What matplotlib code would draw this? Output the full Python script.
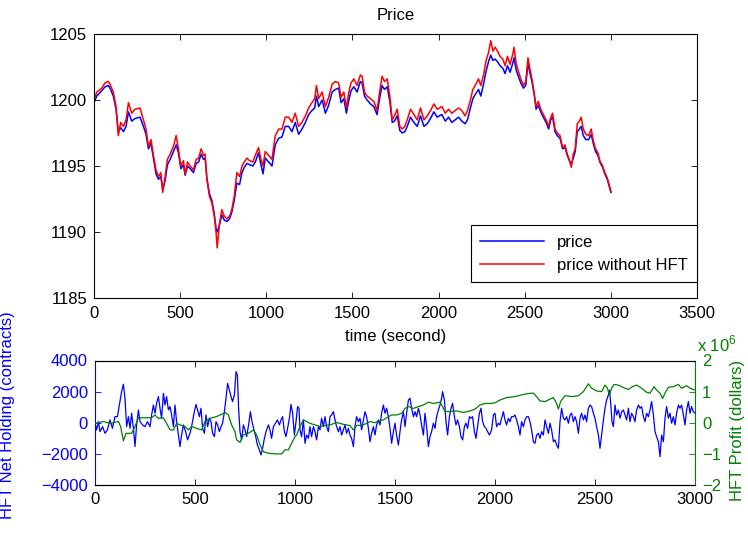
import numpy as np
import matplotlib.pyplot as plt

plt.rcParams['font.family'] = ['Liberation Sans', 'DejaVu Sans']
plt.rcParams['font.size'] = 12
plt.rcParams['mathtext.fontset'] = 'custom'
plt.rcParams['mathtext.rm'] = 'Liberation Sans'

# ---- price panel ----
t_price = [0, 16, 45, 64, 83, 93, 112, 128, 141, 155, 171, 186, 200, 219, 238, 267, 287, 302, 316, 331,
           345, 360, 374, 388, 399, 413, 426, 442, 461, 477, 490, 504, 519, 529, 543, 558, 577, 593, 607, 622,
           636, 645, 655, 670, 684, 698, 709, 715, 729, 742, 756, 771, 787, 800, 814, 829, 845, 859, 872, 888,
           903, 922, 936, 955, 969, 981, 994, 1014, 1033, 1052, 1072, 1091, 1110, 1130, 1149, 1168, 1188, 1207, 1227, 1246,
           1265, 1281, 1291, 1304, 1324, 1343, 1362, 1382, 1401, 1420, 1434, 1450, 1465, 1479, 1492, 1508, 1527, 1546, 1556, 1570,
           1585, 1605, 1624, 1643, 1659, 1672, 1686, 1702, 1717, 1731, 1744, 1760, 1775, 1789, 1804, 1818, 1837, 1857, 1876, 1895,
           1915, 1934, 1953, 1973, 1992, 2019, 2039, 2058, 2077, 2097, 2116, 2135, 2154, 2168, 2183, 2199, 2212, 2232, 2245, 2261,
           2276, 2290, 2303, 2315, 2328, 2342, 2357, 2373, 2386, 2400, 2415, 2431, 2438, 2450, 2463, 2477, 2492, 2506, 2519, 2531,
           2542, 2554, 2566, 2579, 2593, 2608, 2624, 2639, 2651, 2662, 2676, 2689, 2705, 2720, 2734, 2747, 2759, 2770, 2782, 2793,
           2805, 2817, 2828, 2840, 2855, 2871, 2886, 2898, 2911, 2925, 2936, 2952, 2965, 2979, 3000]

price_nohft = [1200.0, 1200.6, 1200.9, 1201.3, 1201.4, 1201.2, 1200.6, 1199.5, 1197.3, 1198.3, 1198.0, 1198.5, 1199.8, 1199.0, 1199.3, 1199.4, 1198.5, 1197.8, 1196.5, 1197.0,
               1195.8, 1194.7, 1194.2, 1194.5, 1193.0, 1194.2, 1195.5, 1195.9, 1196.5, 1197.3, 1196.3, 1195.0, 1195.4, 1194.4, 1195.3, 1195.0, 1194.7, 1195.5, 1195.6, 1196.3,
               1195.8, 1195.9, 1194.0, 1192.7, 1192.2, 1191.2, 1189.9, 1188.8, 1190.7, 1191.7, 1191.2, 1191.0, 1191.2, 1191.7, 1192.7, 1194.5, 1194.2, 1195.0, 1195.3, 1195.6,
               1195.4, 1195.3, 1195.8, 1196.4, 1195.5, 1195.0, 1196.1, 1195.8, 1195.5, 1197.3, 1197.8, 1197.8, 1198.7, 1198.7, 1198.3, 1199.0, 1198.0, 1198.3, 1198.8, 1199.4,
               1199.8, 1200.1, 1201.1, 1200.1, 1200.6, 1199.5, 1200.2, 1201.2, 1201.4, 1201.3, 1200.2, 1200.6, 1199.4, 1200.6, 1201.3, 1201.6, 1201.1, 1201.9, 1201.8, 1200.6,
               1200.3, 1200.1, 1199.9, 1199.2, 1200.7, 1201.8, 1201.4, 1201.6, 1200.3, 1198.5, 1198.8, 1199.3, 1198.0, 1197.8, 1198.0, 1198.5, 1199.3, 1198.9, 1198.5, 1199.4,
               1198.5, 1198.8, 1199.2, 1199.7, 1199.3, 1199.5, 1199.0, 1199.3, 1199.0, 1199.2, 1199.4, 1199.2, 1198.8, 1199.2, 1199.9, 1200.8, 1201.1, 1201.6, 1201.1, 1201.9,
               1203.0, 1203.6, 1204.5, 1203.7, 1204.0, 1203.7, 1203.3, 1203.1, 1202.6, 1203.3, 1202.7, 1203.5, 1204.0, 1202.8, 1202.2, 1201.6, 1201.1, 1201.4, 1203.2, 1202.3,
               1201.6, 1200.6, 1199.5, 1199.9, 1199.3, 1198.9, 1198.5, 1198.0, 1198.7, 1199.0, 1197.8, 1197.5, 1197.3, 1196.4, 1196.6, 1195.9, 1195.5, 1194.9, 1195.9, 1196.3,
               1198.2, 1198.4, 1198.7, 1197.8, 1197.4, 1197.3, 1197.8, 1196.9, 1196.3, 1196.0, 1195.4, 1195.0, 1194.5, 1194.1, 1193.1]

price = [1199.8, 1200.3, 1200.7, 1201.0, 1201.1, 1200.9, 1200.3, 1199.3, 1197.6, 1197.9, 1197.6, 1198.0, 1199.1, 1198.4, 1198.6, 1198.7, 1198.0, 1197.4, 1196.3, 1196.7,
         1195.6, 1194.4, 1194.0, 1194.2, 1193.2, 1193.9, 1195.1, 1195.5, 1196.1, 1196.6, 1196.0, 1194.8, 1195.1, 1194.3, 1195.0, 1194.8, 1194.5, 1195.2, 1195.3, 1195.9,
         1195.5, 1195.6, 1194.1, 1192.9, 1192.4, 1191.4, 1190.2, 1190.0, 1190.6, 1191.3, 1190.9, 1190.8, 1191.0, 1191.5, 1192.4, 1193.7, 1193.6, 1194.5, 1194.9, 1195.2,
         1195.1, 1195.0, 1195.3, 1196.0, 1195.1, 1194.4, 1195.6, 1195.3, 1195.0, 1196.6, 1197.1, 1197.2, 1198.0, 1198.0, 1197.6, 1198.3, 1197.4, 1197.8, 1198.3, 1198.9,
         1199.2, 1199.4, 1200.3, 1199.5, 1200.0, 1199.0, 1199.6, 1200.6, 1200.8, 1200.9, 1199.8, 1200.1, 1199.0, 1200.0, 1200.7, 1201.0, 1200.6, 1201.4, 1201.3, 1200.3,
         1200.0, 1199.7, 1199.5, 1198.9, 1200.2, 1201.1, 1200.8, 1201.0, 1199.9, 1198.3, 1198.4, 1198.8, 1197.7, 1197.5, 1197.6, 1198.0, 1198.7, 1198.3, 1198.0, 1198.8,
         1198.0, 1198.2, 1198.6, 1199.1, 1198.7, 1198.9, 1198.4, 1198.7, 1198.3, 1198.5, 1198.7, 1198.4, 1198.2, 1198.5, 1199.3, 1200.1, 1200.4, 1200.8, 1200.3, 1201.2,
         1202.2, 1202.9, 1203.4, 1203.0, 1203.1, 1202.9, 1202.6, 1202.4, 1202.0, 1202.6, 1202.1, 1202.8, 1203.2, 1202.3, 1201.8, 1201.3, 1200.9, 1201.1, 1202.8, 1202.0,
         1201.4, 1200.5, 1199.3, 1199.6, 1199.1, 1198.7, 1198.3, 1197.8, 1198.5, 1198.7, 1197.6, 1197.3, 1197.1, 1196.3, 1196.4, 1195.8, 1195.4, 1195.1, 1195.6, 1196.1,
         1197.6, 1197.8, 1198.0, 1197.3, 1197.0, 1197.0, 1197.4, 1196.7, 1196.1, 1195.8, 1195.3, 1194.9, 1194.4, 1194.0, 1193.0]

# ---- HFT panel ----
t_hold = [0, 8, 17, 25, 38, 50, 62, 75, 87, 100, 112, 122, 133, 142, 150, 158, 167, 175, 183, 192,
          200, 208, 217, 225, 238, 250, 262, 275, 283, 292, 300, 308, 317, 325, 333, 342, 350, 358, 367, 375,
          383, 392, 400, 408, 417, 425, 433, 442, 453, 463, 475, 483, 495, 505, 513, 522, 530, 538, 547, 555,
          563, 572, 580, 588, 597, 605, 613, 622, 630, 638, 647, 655, 663, 672, 680, 688, 697, 705, 712, 718,
          725, 733, 742, 750, 758, 768, 777, 785, 793, 802, 812, 822, 830, 838, 847, 855, 867, 875, 883, 892,
          902, 912, 922, 930, 938, 947, 955, 963, 972, 980, 988, 997, 1005, 1013, 1020, 1025, 1033, 1042, 1050, 1058,
          1067, 1075, 1083, 1092, 1100, 1108, 1117, 1125, 1133, 1142, 1150, 1158, 1167, 1175, 1183, 1192, 1200, 1208, 1217, 1225,
          1233, 1242, 1250, 1258, 1267, 1275, 1283, 1292, 1300, 1308, 1317, 1325, 1333, 1342, 1350, 1358, 1367, 1375, 1383, 1392,
          1400, 1408, 1417, 1425, 1433, 1442, 1450, 1458, 1467, 1475, 1483, 1492, 1500, 1508, 1517, 1525, 1533, 1542, 1550, 1558,
          1567, 1575, 1583, 1592, 1600, 1608, 1617, 1625, 1633, 1642, 1650, 1658, 1667, 1675, 1683, 1692, 1700, 1708, 1717, 1725,
          1733, 1738, 1747, 1755, 1763, 1772, 1780, 1788, 1797, 1805, 1813, 1822, 1830, 1838, 1847, 1855, 1863, 1872, 1880, 1888,
          1897, 1905, 1913, 1922, 1930, 1938, 1947, 1955, 1963, 1972, 1983, 1992, 2000, 2008, 2017, 2025, 2033, 2042, 2050, 2058,
          2067, 2075, 2083, 2092, 2100, 2108, 2117, 2125, 2133, 2142, 2150, 2158, 2167, 2175, 2183, 2192, 2200, 2208, 2217, 2225,
          2233, 2242, 2250, 2258, 2267, 2275, 2283, 2292, 2300, 2308, 2317, 2325, 2333, 2342, 2350, 2358, 2367, 2375, 2383, 2392,
          2400, 2408, 2417, 2425, 2433, 2442, 2450, 2458, 2467, 2475, 2483, 2492, 2500, 2508, 2517, 2525, 2533, 2542, 2550, 2558,
          2567, 2572, 2578, 2585, 2592, 2600, 2608, 2617, 2625, 2633, 2642, 2650, 2658, 2667, 2675, 2683, 2692, 2700, 2708, 2717,
          2725, 2733, 2742, 2750, 2758, 2767, 2775, 2783, 2792, 2800, 2808, 2817, 2825, 2833, 2842, 2850, 2858, 2867, 2875, 2883,
          2892, 2900, 2908, 2917, 2925, 2933, 2942, 2950, 2958, 2967, 2975, 2983, 2992, 3000]

holding = [0, -460, 70, -570, -250, -680, -460, 180, -360, 390, 390, 1140, 2000, 2470, 1570, -250, 390, -360, 610, -360,
           -1530, -140, 820, 70, -140, -250, 70, -250, 500, 1140, 610, 1250, 1680, 930, 290, 1890, 1140, 1680, 820, 1040,
           500, -250, 1140, 70, -790, -1530, -790, -140, -570, -1100, -680, -250, 610, 1180, 820, 390, 930, -360, -680, 500,
           -250, 290, 70, -680, -890, 70, -140, -570, -250, -30, 710, 1570, 2530, 2100, 1680, 1360, 1790, 3280, 3070, 930,
           -570, -1100, -140, -460, -890, -140, 710, 70, -360, -790, -1430, -1750, -2070, -1640, -1000, -570, -140, -460, -1000, -250,
           -30, 180, -140, 180, 390, -570, -890, -360, 290, 1180, 610, -790, 70, 1040, 930, -460, -890, 180, -1320, -790,
           -1000, -250, -890, -250, -570, -1100, -250, -460, 290, -250, 390, -250, -570, 390, 500, 710, 180, -250, -570, -250,
           -790, -460, -140, -680, -360, -790, -1000, -1530, -250, 390, 70, 290, -460, 180, 710, 390, -360, -1220, -680, -250,
           -790, -140, 180, -140, 610, 1140, 610, 930, 390, -360, -1320, -570, -30, -790, -1430, -570, 180, 710, -250, 610,
           1460, 1570, 930, 390, 710, 390, 930, 500, -140, -790, 610, -250, -1530, -890, -570, -30, -360, 390, 820, 1140,
           1570, 2000, 1460, 70, -790, 390, 930, 1250, 390, -140, 180, -250, -890, -1100, -250, -30, -360, 390, 290, 390,
           -570, -1000, -250, 610, 930, 70, -250, -360, -570, -790, -460, 500, 610, -250, -30, -140, 290, 710, 180, -140,
           290, 70, 390, 390, 500, 180, -250, -790, 70, -250, 180, 390, 390, 70, -460, -1220, -1320, -790, -680, -1000,
           -570, -790, 180, -250, -680, -30, -460, -1220, -1100, -1430, -1640, 70, 930, 290, 180, 390, -30, 500, 610, 70,
           390, 70, -680, 290, 610, 180, 500, 70, 930, 1140, 1040, 610, 290, -250, -790, -1640, -790, 180, 930, 1460,
           1790, 2100, 1360, 70, -250, 1140, 500, 820, 290, 710, 820, 500, 180, 930, 70, 610, 390, 70, 820, 1140,
           930, 1040, 390, 70, 610, 390, 820, 1360, 500, -570, -890, -1220, -2180, -790, -1220, 290, 1040, 290, 610, -30,
           390, -140, 610, 1140, 930, 1140, 500, -140, 820, 1360, 610, 1040, 710, 610]

t_profit = [0, 42, 75, 117, 128, 142, 155, 183, 200, 217, 250, 283, 300, 317, 342, 358, 375, 392, 408, 425,
            450, 467, 483, 508, 533, 550, 575, 608, 633, 650, 667, 683, 700, 708, 725, 742, 767, 792, 808, 825,
            842, 867, 900, 933, 950, 967, 983, 1000, 1008, 1025, 1042, 1058, 1075, 1100, 1125, 1150, 1175, 1208, 1242, 1275,
            1292, 1308, 1342, 1375, 1400, 1417, 1442, 1458, 1483, 1508, 1533, 1550, 1567, 1592, 1617, 1642, 1667, 1692, 1725, 1738,
            1750, 1775, 1808, 1842, 1875, 1900, 1925, 1950, 1975, 2000, 2025, 2058, 2100, 2142, 2167, 2192, 2208, 2225, 2250, 2275,
            2292, 2308, 2317, 2328, 2350, 2383, 2417, 2442, 2467, 2483, 2508, 2533, 2550, 2562, 2572, 2583, 2595, 2617, 2642, 2667,
            2688, 2708, 2733, 2758, 2775, 2795, 2808, 2825, 2838, 2850, 2867, 2892, 2917, 2933, 2958, 2975, 3000]

profit = [-0.02, 0.04, -0.02, 0.04, -0.12, -0.58, -0.34, -0.34, -0.12, 0.16, 0.16, 0.16, 0.25, 0.14, 0.16, -0.02, -0.23, -0.23, -0.02, -0.07,
          -0.12, -0.23, -0.12, -0.18, -0.23, 0.04, 0.14, 0.20, 0.27, 0.33, 0.25, -0.07, -0.28, -0.55, -0.63, -0.39, -0.34, -0.23, -0.39, -0.71,
          -0.93, -0.98, -1.00, -1.00, -0.87, -0.87, -0.66, -0.45, -0.39, -0.12, 0.09, 0.04, -0.02, -0.07, -0.12, -0.09, -0.07, 0.01, -0.05, -0.09,
          -0.23, -0.09, -0.07, 0.04, 0.00, 0.06, 0.09, 0.16, 0.25, 0.25, 0.30, 0.46, 0.52, 0.46, 0.52, 0.57, 0.66, 0.62, 0.66, 0.52,
          0.36, 0.36, 0.38, 0.33, 0.38, 0.44, 0.57, 0.62, 0.62, 0.64, 0.73, 0.81, 0.84, 0.91, 0.94, 0.95, 0.84, 0.70, 0.68, 0.76,
          0.81, 0.62, 0.44, 0.68, 0.87, 0.84, 0.87, 1.00, 1.25, 1.11, 1.02, 1.00, 1.21, 1.11, 0.89, 1.11, 1.23, 1.21, 1.13, 1.07,
          1.16, 1.21, 1.11, 0.98, 0.95, 1.16, 1.05, 0.95, 0.78, 0.95, 1.14, 1.16, 1.23, 1.11, 1.19, 1.11, 1.05]

green = '#008000'

fig = plt.figure(figsize=(7.48, 5.4), dpi=100)

# top panel
ax1 = fig.add_axes([94/748, 1 - 298/540, 603/748, 264/540])
ax1.plot(t_price, price, color='b', lw=1.1, label='price')
ax1.plot(t_price, price_nohft, color='r', lw=1.1, label='price without HFT')
ax1.set_xlim(0, 3500)
ax1.set_ylim(1185, 1205)
ax1.set_xticks(np.arange(0, 3501, 500))
ax1.set_yticks(np.arange(1185, 1206, 5))
ax1.tick_params(direction='in', top=True, right=True, length=4.5, width=0.6)
ax1.tick_params(axis='x', pad=6)
ax1.tick_params(axis='y', pad=5)
ax1.set_title('Price', fontsize=12, pad=10)
ax1.set_xlabel('time (second)')
ax1.xaxis.set_label_coords(0.5, -0.118)
leg = ax1.legend(loc='lower right', bbox_to_anchor=(1.0, 0.06), borderaxespad=0,
                 fancybox=False, edgecolor='black', framealpha=1, handlelength=3.8,
                 borderpad=0.55)
leg.get_frame().set_linewidth(0.8)

# bottom panel
ax2 = fig.add_axes([95/748, 1 - 485/540, 600/748, 124.5/540])
ax2.plot(t_hold, holding, color='b', lw=0.9)
ax2.set_xlim(0, 3000)
ax2.set_ylim(-4000, 4000)
ax2.set_xticks(np.arange(0, 3001, 500))
ax2.set_yticks(np.arange(-4000, 4001, 2000))
ax2.tick_params(direction='in', top=True, length=4.5, width=0.6)
ax2.tick_params(axis='x', pad=5)
ax2.tick_params(axis='y', colors='b', pad=5)
ax2.spines['left'].set_color('b')
ax2.spines['right'].set_visible(False)
ax2.set_ylabel('HFT Net Holding (contracts)', color='b')
ax2.yaxis.set_label_coords(-0.133, 0.56)

ax3 = ax2.twinx()
ax3.plot(t_profit, profit, color=green, lw=0.9)
ax3.set_ylim(-2, 2)
ax3.set_yticks(np.arange(-2, 3, 1))
ax3.tick_params(direction='in', length=4.5, width=0.6, colors=green, pad=5)
ax3.spines['right'].set_color(green)
ax3.spines['left'].set_visible(False)
ax3.set_ylabel('HFT Profit (dollars)', color=green)
ax3.yaxis.set_label_coords(1.058, 0.44)
ax3.text(1.003, 1.045, r'x 10$^6$', transform=ax3.transAxes, color=green,
         ha='left', va='bottom', fontsize=12)

fig.savefig('out.png', dpi=100)
